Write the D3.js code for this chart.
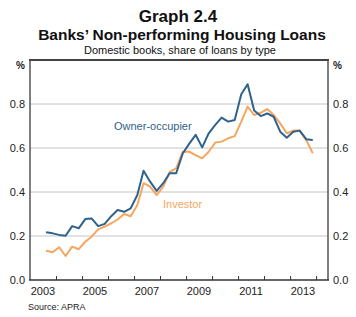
<!DOCTYPE html>
<html>
<head>
<meta charset="utf-8">
<script src="https://cdn.jsdelivr.net/npm/d3@7"></script>
<style>
  body { margin: 0; background: #fff; }
  svg { display: block; font-family: "Liberation Sans", Arial, sans-serif; }
</style>
</head>
<body>
<svg id="chart"></svg>
<script>
// quarterly observations, Sep 2003 .. Dec 2013 (plotted mid-quarter)
var quarters = ["2003-08-15","2003-11-15","2004-02-15","2004-05-15","2004-08-15","2004-11-15",
  "2005-02-15","2005-05-15","2005-08-15","2005-11-15","2006-02-15","2006-05-15","2006-08-15",
  "2006-11-15","2007-02-15","2007-05-15","2007-08-15","2007-11-15","2008-02-15","2008-05-15",
  "2008-08-15","2008-11-15","2009-02-15","2009-05-15","2009-08-15","2009-11-15","2010-02-15",
  "2010-05-15","2010-08-15","2010-11-15","2011-02-15","2011-05-15","2011-08-15","2011-11-15",
  "2012-02-15","2012-05-15","2012-08-15","2012-11-15","2013-02-15","2013-05-15","2013-08-15",
  "2013-11-15"]

var ownerOccupier = [0.217,0.212,0.205,0.201,0.245,0.235,0.277,0.280,0.245,0.255,0.290,0.318,
  0.310,0.326,0.385,0.497,0.447,0.405,0.440,0.485,0.485,0.575,0.620,0.660,0.603,0.667,0.705,
  0.738,0.720,0.727,0.844,0.890,0.770,0.745,0.757,0.742,0.674,0.647,0.674,0.679,0.640,0.636]

var investor = [0.133,0.126,0.149,0.109,0.152,0.140,0.174,0.197,0.230,0.243,0.258,0.275,
  0.300,0.290,0.340,0.440,0.424,0.386,0.424,0.490,0.507,0.583,0.583,0.568,0.553,0.583,0.625,
  0.629,0.644,0.654,0.720,0.788,0.750,0.760,0.777,0.750,0.712,0.667,0.679,0.679,0.636,0.576]

var yTicks = [0, 0.2, 0.4, 0.6, 0.8]
var yearLabels = [2003, 2005, 2007, 2009, 2011, 2013]

var dimensions = {
  width: 356,
  height: 317,
  margin: { top: 60, bottom: 37, left: 30, right: 28 }
}

var svg = d3.select("#chart")
  .attr("width", dimensions.width)
  .attr("height", dimensions.height)

var parse = d3.timeParse("%Y-%m-%d")
var dates = quarters.map(parse)

var xScale = d3.scaleTime()
  .domain([new Date(2003, 0, 1), new Date(2014, 5, 17)])
  .range([dimensions.margin.left, dimensions.width - dimensions.margin.right])

var yScale = d3.scaleLinear()
  .domain([0, 1])
  .range([dimensions.height - dimensions.margin.bottom, dimensions.margin.top])

var x0 = dimensions.margin.left
var x1 = dimensions.width - dimensions.margin.right
var y0 = dimensions.height - dimensions.margin.bottom
var y1 = dimensions.margin.top

// titles
svg.append("text").attr("x", 178).attr("y", 22).attr("text-anchor", "middle")
  .style("font-size", "17px").style("font-weight", "bold").attr("fill", "#111")
  .text("Graph 2.4")
svg.append("text").attr("x", 182).attr("y", 40).attr("text-anchor", "middle")
  .style("font-size", "15.5px").style("font-weight", "bold").attr("fill", "#111")
  .text("Banks’ Non-performing Housing Loans")
svg.append("text").attr("x", 180).attr("y", 54).attr("text-anchor", "middle")
  .style("font-size", "11px").attr("fill", "#111")
  .text("Domestic books, share of loans by type")

// gridlines
svg.append("g").selectAll("line")
  .data(yTicks.slice(1))
  .enter().append("line")
  .attr("x1", x0).attr("x2", x1)
  .attr("y1", d => yScale(d)).attr("y2", d => yScale(d))
  .attr("stroke", "#c4c4c4").attr("stroke-width", 1)

// y axes (labels only)
var yAxisLeft = d3.axisLeft(yScale).tickValues(yTicks).tickFormat(d3.format(".1f")).tickSize(0).tickPadding(5)
var yAxisRight = d3.axisRight(yScale).tickValues(yTicks).tickFormat(d3.format(".1f")).tickSize(0).tickPadding(5)

svg.append("g").attr("transform", `translate(${x0},0)`).call(yAxisLeft)
  .call(g => g.select(".domain").remove())
  .selectAll("text").style("font-size", "11px").attr("fill", "#222")
svg.append("g").attr("transform", `translate(${x1},0)`).call(yAxisRight)
  .call(g => g.select(".domain").remove())
  .selectAll("text").style("font-size", "11px").attr("fill", "#222")

svg.append("text").attr("x", 25).attr("y", 69).attr("text-anchor", "end")
  .style("font-size", "10px").style("font-weight", "bold").attr("fill", "#222").text("%")
svg.append("text").attr("x", 333).attr("y", 69)
  .style("font-size", "10px").style("font-weight", "bold").attr("fill", "#222").text("%")

// x axis: year ticks pointing in, labels mid-year
var yearTicks = d3.range(2004, 2015).map(y => new Date(y, 0, 1))
var xAxisgen = d3.axisTop(xScale).tickValues(yearTicks).tickSize(4).tickFormat("")
svg.append("g").attr("transform", `translate(0,${y0})`).call(xAxisgen)
  .call(g => g.select(".domain").remove())
  .selectAll("line").attr("stroke", "#333").attr("stroke-width", 1)

svg.append("g").selectAll("text")
  .data(yearLabels)
  .enter().append("text")
  .attr("x", d => xScale(new Date(d, 6, 1)))
  .attr("y", y0 + 15)
  .attr("text-anchor", "middle")
  .style("font-size", "11px").attr("fill", "#222")
  .text(d => d)

// frame
svg.append("line").attr("x1", x0 - 1).attr("x2", x1 + 1).attr("y1", y1).attr("y2", y1)
  .attr("stroke", "#444").attr("stroke-width", 2)
svg.append("line").attr("x1", x0).attr("x2", x0).attr("y1", y1).attr("y2", y0)
  .attr("stroke", "#555").attr("stroke-width", 1.5)
svg.append("line").attr("x1", x1).attr("x2", x1).attr("y1", y1).attr("y2", y0)
  .attr("stroke", "#555").attr("stroke-width", 1.5)
svg.append("line").attr("x1", x0 - 1).attr("x2", x1 + 1).attr("y1", y0).attr("y2", y0)
  .attr("stroke", "#333").attr("stroke-width", 1.5)

// series
var line = d3.line()
  .x((d, i) => xScale(dates[i]))
  .y(d => yScale(d))

svg.append("path").datum(investor)
  .attr("d", line).attr("fill", "none")
  .attr("stroke", "#f6a55e").attr("stroke-width", 2).attr("stroke-linejoin", "round")

svg.append("path").datum(ownerOccupier)
  .attr("d", line).attr("fill", "none")
  .attr("stroke", "#2f628c").attr("stroke-width", 2).attr("stroke-linejoin", "round")

// series labels
svg.append("text").attr("x", 114).attr("y", 130)
  .style("font-size", "11px").attr("fill", "#2f628c").text("Owner-occupier")
svg.append("text").attr("x", 163).attr("y", 207.5)
  .style("font-size", "11px").attr("fill", "#f6a55e").text("Investor")

svg.append("text").attr("x", 28).attr("y", 310)
  .style("font-size", "9px").attr("fill", "#222").text("Source: APRA")
</script>
</body>
</html>
